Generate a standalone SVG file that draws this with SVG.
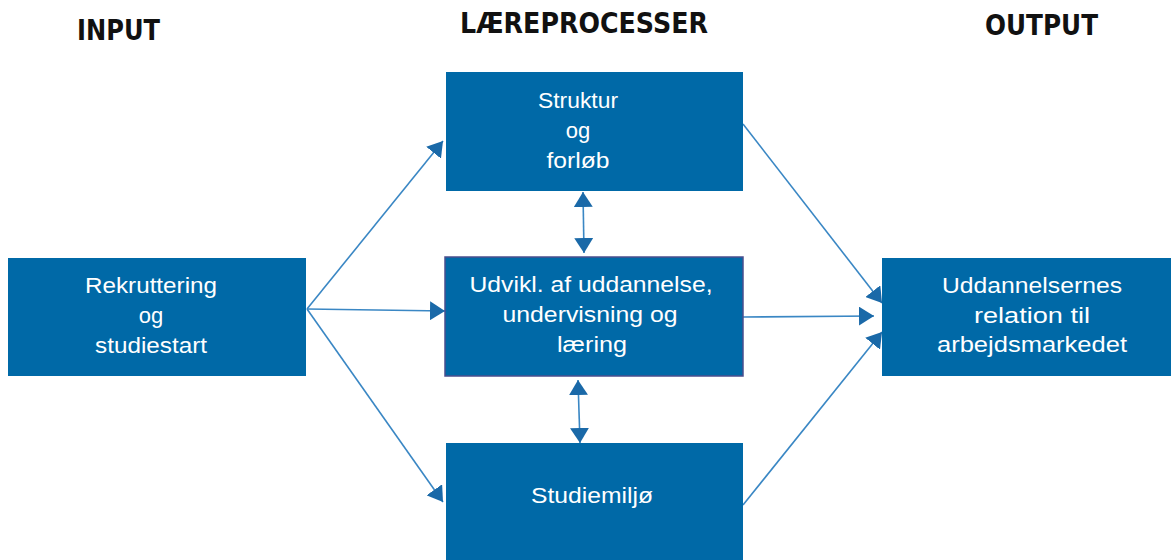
<svg xmlns="http://www.w3.org/2000/svg" width="1171" height="560" viewBox="0 0 1171 560">
<style>
.hdr{font-family:"DejaVu Sans","Liberation Sans",sans-serif;font-weight:bold;font-size:29px;fill:#111}
.box{fill:#0069a7}
.lbl{font-family:"Liberation Sans","DejaVu Sans",sans-serif;font-size:22px;fill:#fff;text-anchor:middle}
.con{stroke:#3a87c4;stroke-width:1.6;fill:none}
</style>
<defs>
<marker id="ah" viewBox="0 0 15 19" refX="15" refY="9.5" markerWidth="15" markerHeight="19" markerUnits="userSpaceOnUse" orient="auto-start-reverse">
<path d="M0,0 L15,9.5 L0,19 z" fill="#1a69a8"/>
</marker>
</defs>
<rect width="1171" height="560" fill="#fff"/>
<text class="hdr" x="77" y="40" textLength="83" lengthAdjust="spacingAndGlyphs">INPUT</text>
<text class="hdr" x="460" y="33" textLength="248" lengthAdjust="spacingAndGlyphs">LÆREPROCESSER</text>
<text class="hdr" x="985" y="35" textLength="113" lengthAdjust="spacingAndGlyphs">OUTPUT</text>
<g id="connectors">
<line class="con" x1="307" y1="309" x2="443" y2="141" marker-end="url(#ah)"/>
<line class="con" x1="307" y1="309" x2="445" y2="311" marker-end="url(#ah)"/>
<line class="con" x1="307" y1="309" x2="443" y2="502" marker-end="url(#ah)"/>
<line class="con" x1="583" y1="192" x2="584" y2="253" marker-start="url(#ah)" marker-end="url(#ah)"/>
<line class="con" x1="578" y1="380" x2="580" y2="443" marker-start="url(#ah)" marker-end="url(#ah)"/>
<line class="con" x1="743" y1="124" x2="882" y2="303" marker-end="url(#ah)"/>
<line class="con" x1="743" y1="317" x2="874" y2="316" marker-end="url(#ah)"/>
<line class="con" x1="743" y1="505" x2="882" y2="332" marker-end="url(#ah)"/>
</g>
<g id="rekruttering">
<rect class="box" x="8" y="258" width="298" height="118"/>
<text class="lbl" x="151" y="293" textLength="132" lengthAdjust="spacingAndGlyphs">Rekruttering</text>
<text class="lbl" x="151" y="323">og</text>
<text class="lbl" x="151" y="353" textLength="112" lengthAdjust="spacingAndGlyphs">studiestart</text>
</g>
<g id="struktur">
<rect class="box" x="446" y="72" width="297" height="119"/>
<text class="lbl" x="578" y="108" textLength="80" lengthAdjust="spacingAndGlyphs">Struktur</text>
<text class="lbl" x="578" y="138">og</text>
<text class="lbl" x="578" y="168" textLength="63" lengthAdjust="spacingAndGlyphs">forløb</text>
</g>
<g id="udvikl">
<rect class="box" x="445" y="257" width="298" height="119" stroke="#4a4f8e" stroke-width="1.5"/>
<text class="lbl" x="591" y="292" textLength="243" lengthAdjust="spacingAndGlyphs">Udvikl. af uddannelse,</text>
<text class="lbl" x="590" y="322" textLength="175" lengthAdjust="spacingAndGlyphs">undervisning og</text>
<text class="lbl" x="592" y="352" textLength="70" lengthAdjust="spacingAndGlyphs">læring</text>
</g>
<g id="studiemiljo">
<rect class="box" x="446" y="443" width="297" height="117"/>
<text class="lbl" x="592" y="503" textLength="122" lengthAdjust="spacingAndGlyphs">Studiemiljø</text>
</g>
<g id="output">
<rect class="box" x="882" y="258" width="289" height="118"/>
<text class="lbl" x="1032" y="293" textLength="180" lengthAdjust="spacingAndGlyphs">Uddannelsernes</text>
<text class="lbl" x="1032" y="323" textLength="116" lengthAdjust="spacingAndGlyphs">relation til</text>
<text class="lbl" x="1032" y="352" textLength="190" lengthAdjust="spacingAndGlyphs">arbejdsmarkedet</text>
</g>
</svg>
